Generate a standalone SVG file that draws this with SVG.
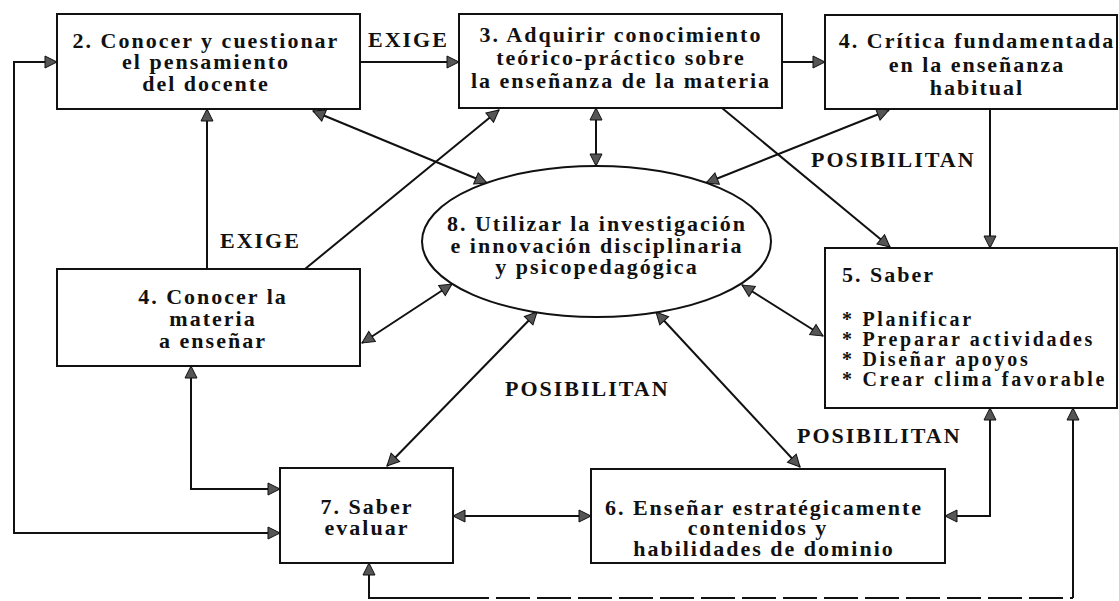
<svg xmlns="http://www.w3.org/2000/svg" width="1119" height="601" viewBox="0 0 1119 601">
<defs>
<marker id="ah" markerUnits="userSpaceOnUse" markerWidth="14" markerHeight="12" refX="12" refY="6" orient="auto-start-reverse" overflow="visible">
<path d="M0,0 L12,6 L0,12 Z" fill="#555" stroke="#111" stroke-width="1"/>
</marker>
</defs>
<style>
.box{fill:#fff;stroke:#111;stroke-width:2}
.t{font-family:"Liberation Serif","Times New Roman",serif;font-weight:bold;font-size:22px;letter-spacing:2px;fill:#111}
.s{font-size:20px;letter-spacing:2.7px}
.c{text-anchor:middle}
.ln{fill:none;stroke:#111;stroke-width:2}
.both{marker-start:url(#ah);marker-end:url(#ah)}
.end{marker-end:url(#ah)}
.start{marker-start:url(#ah)}
</style>
<rect width="1119" height="601" fill="#fff"/>

<g id="connectors">
<path class="ln both" d="M57,62 H14 V533 H280"/>
<path class="ln both" d="M191,366 V489 H280"/>
<path class="ln end" d="M207,269 V109"/>
<path class="ln end" d="M360,62 H459"/>
<path class="ln end" d="M782,62 H825"/>
<path class="ln both" d="M596,108 V166"/>
<path class="ln both" d="M313,111 L487,183"/>
<path class="ln end" d="M305,269 L499,110"/>
<path class="ln both" d="M889,110 L706,183"/>
<path class="ln end" d="M722,108 L890,247"/>
<path class="ln end" d="M990,109 V248"/>
<path class="ln both" d="M452,284 L362,343"/>
<path class="ln both" d="M742,285 L823,336"/>
<path class="ln both" d="M537,312 L387,466"/>
<path class="ln both" d="M656,312 L800,467"/>
<path class="ln both" d="M453,516 H591"/>
<path class="ln both" d="M945,516 H990 V408"/>
<path class="ln start" d="M369,563 V598 H455"/>
<path class="ln" d="M455,598 H1073" stroke-dasharray="34 7"/>
<path class="ln end" d="M1073,598 V408"/>
<text class="t" x="368" y="47">EXIGE</text>
<text class="t" x="220" y="248">EXIGE</text>
<text class="t" x="811" y="167">POSIBILITAN</text>
<text class="t" x="505" y="396">POSIBILITAN</text>
<text class="t" x="797" y="443">POSIBILITAN</text>
</g>

<g id="n2">
<rect class="box" x="57" y="14" width="303" height="95"/>
<text class="t c" x="206" y="48">2. Conocer y cuestionar</text>
<text class="t c" x="206" y="69">el pensamiento</text>
<text class="t c" x="206" y="91">del docente</text>
</g>

<g id="n3">
<rect class="box" x="459" y="14" width="323" height="94"/>
<text class="t c" x="621" y="42">3. Adquirir conocimiento</text>
<text class="t c" x="621" y="65">teórico-práctico sobre</text>
<text class="t c" x="621" y="88">la enseñanza de la materia</text>
</g>

<g id="n4">
<rect class="box" x="825" y="15" width="292" height="94"/>
<text class="t c" x="977" y="48">4. Crítica fundamentada</text>
<text class="t c" x="977" y="72">en la enseñanza</text>
<text class="t c" x="977" y="95">habitual</text>
</g>

<g id="n1">
<rect class="box" x="57" y="269" width="303" height="97"/>
<text class="t c" x="213" y="304">4. Conocer la</text>
<text class="t c" x="213" y="326">materia</text>
<text class="t c" x="213" y="348">a enseñar</text>
</g>

<g id="n8">
<ellipse class="box" cx="596.5" cy="241.5" rx="174.5" ry="75.5"/>
<text class="t c" x="597" y="231">8. Utilizar la investigación</text>
<text class="t c" x="597" y="253">e innovación disciplinaria</text>
<text class="t c" x="597" y="274">y psicopedagógica</text>
</g>

<g id="n5">
<rect class="box" x="825" y="248" width="292" height="160"/>
<text class="t" x="842" y="282">5. Saber</text>
<text class="t s" x="842" y="326">* Planificar</text>
<text class="t s" x="842" y="346">* Preparar actividades</text>
<text class="t s" x="842" y="366">* Diseñar apoyos</text>
<text class="t s" x="842" y="386">* Crear clima favorable</text>
</g>

<g id="n7">
<rect class="box" x="280" y="468" width="173" height="95"/>
<text class="t c" x="367" y="514">7. Saber</text>
<text class="t c" x="367" y="535">evaluar</text>
</g>

<g id="n6">
<rect class="box" x="591" y="469" width="354" height="94"/>
<text class="t c" x="764" y="515">6. Enseñar estratégicamente</text>
<text class="t c" x="758" y="535">contenidos y</text>
<text class="t c" x="764" y="556">habilidades de dominio</text>
</g>
</svg>
